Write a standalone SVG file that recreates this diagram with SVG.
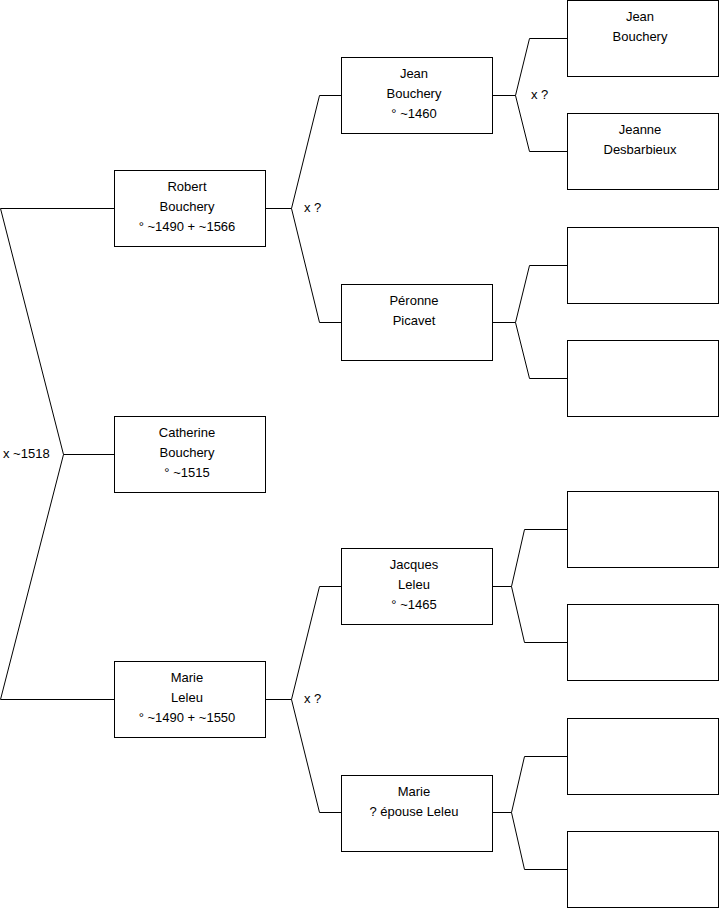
<svg xmlns="http://www.w3.org/2000/svg" width="719" height="908" viewBox="0 0 719 908">
<style>
rect{fill:#fff;stroke:#000;stroke-width:1}
.c{fill:none;stroke:#000;stroke-width:1}
text{font-family:"Liberation Sans",Arial,sans-serif;font-size:13px;fill:#000}
.n text{text-anchor:middle}
</style>
<rect x="0" y="0" width="719" height="908" style="stroke:none"/>
<g id="connectors">
<polyline class="c" points="114,208.5 0.5,208.5 63.5,454.5 0.5,699.5 114,699.5"/>
<line class="c" x1="63.5" y1="454.5" x2="114" y2="454.5"/>
<polyline class="c" points="341,95.5 319.5,95.5 291.5,208.5 319.5,322.5 341,322.5"/>
<line class="c" x1="265" y1="208.5" x2="291.5" y2="208.5"/>
<polyline class="c" points="341,586.5 319.5,586.5 291.5,699.5 319.5,812.5 341,812.5"/>
<line class="c" x1="265" y1="699.5" x2="291.5" y2="699.5"/>
<polyline class="c" points="567,38.5 529.5,38.5 515.5,95.5 529.5,151.5 567,151.5"/>
<line class="c" x1="492" y1="95.5" x2="515.5" y2="95.5"/>
<polyline class="c" points="567,265.5 529.5,265.5 515.5,322.5 529.5,378.5 567,378.5"/>
<line class="c" x1="492" y1="322.5" x2="515.5" y2="322.5"/>
<polyline class="c" points="567,529.5 524.5,529.5 511.5,586.5 524.5,642.5 567,642.5"/>
<line class="c" x1="492" y1="586.5" x2="511.5" y2="586.5"/>
<polyline class="c" points="567,756.5 524.5,756.5 511.5,812.5 524.5,869.5 567,869.5"/>
<line class="c" x1="492" y1="812.5" x2="511.5" y2="812.5"/>
<text x="3" y="458">x ~1518</text>
<text x="304" y="212">x ?</text>
<text x="304" y="703">x ?</text>
<text x="531" y="99">x ?</text>
</g>
<g id="robert" class="n"><rect x="114.5" y="170.5" width="151" height="76"/><text x="187" y="191">Robert</text><text x="187" y="211">Bouchery</text><text x="187" y="231">° ~1490 + ~1566</text></g>
<g id="catherine" class="n"><rect x="114.5" y="416.5" width="151" height="76"/><text x="187" y="437">Catherine</text><text x="187" y="457">Bouchery</text><text x="187" y="477">° ~1515</text></g>
<g id="marie" class="n"><rect x="114.5" y="661.5" width="151" height="76"/><text x="187" y="682">Marie</text><text x="187" y="702">Leleu</text><text x="187" y="722">° ~1490 + ~1550</text></g>
<g id="jean1460" class="n"><rect x="341.5" y="57.5" width="151" height="76"/><text x="414" y="78">Jean</text><text x="414" y="98">Bouchery</text><text x="414" y="118">° ~1460</text></g>
<g id="peronne" class="n"><rect x="341.5" y="284.5" width="151" height="76"/><text x="414" y="305">Péronne</text><text x="414" y="325">Picavet</text></g>
<g id="jacques" class="n"><rect x="341.5" y="548.5" width="151" height="76"/><text x="414" y="569">Jacques</text><text x="414" y="589">Leleu</text><text x="414" y="609">° ~1465</text></g>
<g id="marie2" class="n"><rect x="341.5" y="775.5" width="151" height="76"/><text x="414" y="796">Marie</text><text x="414" y="816">? épouse Leleu</text></g>
<g id="jean" class="n"><rect x="567.5" y="0.5" width="151" height="76"/><text x="640" y="21">Jean</text><text x="640" y="41">Bouchery</text></g>
<g id="jeanne" class="n"><rect x="567.5" y="113.5" width="151" height="76"/><text x="640" y="134">Jeanne</text><text x="640" y="154">Desbarbieux</text></g>
<g id="p3" class="n"><rect x="567.5" y="227.5" width="151" height="76"/></g>
<g id="p4" class="n"><rect x="567.5" y="340.5" width="151" height="76"/></g>
<g id="p5" class="n"><rect x="567.5" y="491.5" width="151" height="76"/></g>
<g id="p6" class="n"><rect x="567.5" y="604.5" width="151" height="76"/></g>
<g id="p7" class="n"><rect x="567.5" y="718.5" width="151" height="76"/></g>
<g id="p8" class="n"><rect x="567.5" y="831.5" width="151" height="76"/></g>
</svg>
